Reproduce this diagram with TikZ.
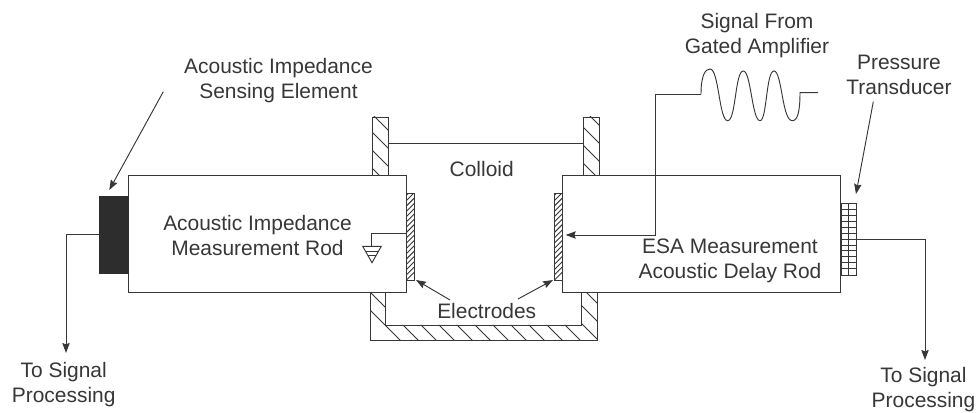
\documentclass[tikz,border=0pt]{standalone}
\usepackage{fontspec}
\setmainfont{Liberation Sans}
\usetikzlibrary{arrows.meta,positioning,calc}
\definecolor{inkc}{RGB}{55,55,55}
\definecolor{sensc}{RGB}{45,45,45}
\tikzset{
  lbl/.style={align=center, inner sep=0pt, text=inkc, font=\fontsize{15.7}{18.8}\selectfont},
  wire/.style={draw=inkc, line width=0.7pt},
  sigarr/.style={-{Stealth[length=7.5pt,width=5.5pt,inset=1pt]}, inkc, line width=0.7pt},
  rodbox/.style={wire, fill=white, inner sep=0pt, minimum width=208.5pt, minimum height=87.75pt, anchor=north west},
  sensbox/.style={draw=sensc, fill=sensc, inner sep=0pt, minimum width=21.4pt, minimum height=58.2pt, anchor=north west},
  wallhatch/.style={wire, fill=white, path picture={
      \foreach \k in {0,...,30} \draw[wire] (60+18*\k,0) ++(-100,-100) -- ++(500,500);}},
  elecbox/.style={wire, fill=white, inner sep=0pt, minimum width=6pt, minimum height=65.2pt, anchor=north west,
    path picture={
      \foreach \k in {0,...,19} \draw[wire]
        ($(path picture bounding box.south west)+(0,-5.3*\k)$) -- ++(8,-8);}},
  gridbox/.style={wire, fill=white, inner sep=0pt, minimum width=11.5pt, minimum height=53.5pt, anchor=north west,
    path picture={
      \foreach \k in {1,...,11} \draw[wire]
        ($(path picture bounding box.north west)+(0,5.9*\k)$) -- ++(20,0);
      \draw[wire] (path picture bounding box.north) -- (path picture bounding box.south);}},
}
\begin{document}
\begin{tikzpicture}[x=0.75pt,y=-0.75pt]
  \useasboundingbox[fill=white] (0,0) rectangle (976,413);
  % cell walls and cup
  \draw[wallhatch] (372.5,117) rectangle (388,176);
  \draw[wallhatch] (583,117) rectangle (599,176);
  \draw[wallhatch] (370,291) -- (370,340) -- (597,340) -- (597,291) -- (581,291)
    -- (581,325) -- (385,325) -- (385,291) -- cycle;
  \coordinate (colL) at (388,143);
  \coordinate (colR) at (583,143);
  \draw[wire] (colL) -- (colR);
  % rods
  \node[rodbox] (leftrod) at (128,175) {};
  \node[rodbox] (rightrod) at (562,175) {};
  \node[sensbox] (sensor) at (99.3,195.7) {};
  \node[elecbox] (leftelec) at (406,192.7) {};
  \node[elecbox] (rightelec) at (554,192.7) {};
  \node[gridbox] (transducer) at (840.5,203.3) {};
  % labels
  \node[lbl] (senslbl) at (278.5,81) {Acoustic Impedance\\Sensing Element};
  \node[lbl] (leftlbl) at (257.5,235.5) {Acoustic Impedance\\Measurement Rod};
  \node[lbl] (rightlbl) at (730,260.5) {ESA Measurement\\Acoustic Delay Rod};
  \node[lbl] (colloid) at (481.7,169) {Colloid};
  \node[lbl] (electrodes) at (486.7,310.7) {Electrodes};
  \node[lbl] (siglbl) at (757,35.5) {Signal From\\Gated Amplifier};
  \node[lbl] (preslbl) at (899,75) {Pressure\\Transducer};
  \node[lbl] (leftout) at (63.7,384.5) {To Signal\\Processing};
  \node[lbl] (rightout) at (923.5,389.5) {To Signal\\Processing};
  % ground
  \coordinate (gndwire) at (406,233.7);
  \coordinate (gndtop) at (371.7,246.3);
  \draw[wire] (gndwire) -| (gndtop);
  \draw[wire] (362.7,246.3) -- (381.3,246.3) -- (372,262.7) -- cycle;
  \draw[wire] (365.5,251) -- (378.5,251);
  \draw[wire] (368,255.5) -- (376,255.5);
  % signal in
  \coordinate (waveL) at (701,94.3);
  \coordinate (waveR) at (818,92.7);
  \coordinate (rodtip) at (565.7,235);
  \draw[sigarr] (waveL) -| (655,235) -- (rodtip);
  \draw[wire] (waveL) .. controls (701,76) and (705,69) .. (710,69)
    .. controls (719,69) and (719,120.7) .. (727.7,120.7)
    .. controls (736,120.7) and (735,71) .. (743.3,71)
    .. controls (751,71) and (752,120.7) .. (760,120.7)
    .. controls (767,120.7) and (766,71) .. (774,71)
    .. controls (782,71) and (782,120.7) .. (792.3,120.7)
    .. controls (798,120.7) and (800,110) .. (800,92.7) -- (waveR);
  % outputs
  \coordinate (lefttip) at (66,353);
  \coordinate (righttip) at (925,360);
  \draw[sigarr] (sensor.west) -| (lefttip);
  \draw[sigarr] (transducer.east) -| (righttip);
  % pointers
  \coordinate (sensfrom) at (163.3,91.7);
  \coordinate (senstip) at (109.3,190);
  \coordinate (presfrom) at (873.3,101.7);
  \coordinate (prestip) at (856,194);
  \coordinate (elecfromL) at (450,300);
  \coordinate (electipL) at (416,280);
  \coordinate (elecfromR) at (518,299);
  \coordinate (electipR) at (553,280);
  \draw[sigarr] (sensfrom) -- (senstip);
  \draw[sigarr] (presfrom) -- (prestip);
  \draw[sigarr] (elecfromL) -- (electipL);
  \draw[sigarr] (elecfromR) -- (electipR);
\end{tikzpicture}
\end{document}
